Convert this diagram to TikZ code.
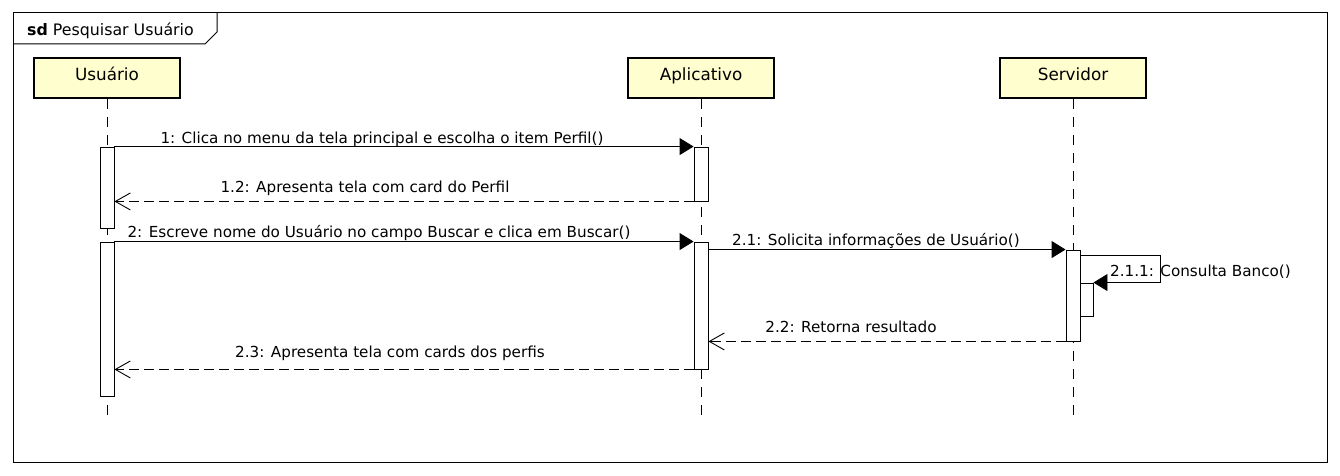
\documentclass[tikz,border=0pt]{standalone}
\usepackage{fontspec}
\setmainfont{DejaVu Sans}
\usepackage{tikz}
\usetikzlibrary{arrows.meta}
\definecolor{head_yellow}{HTML}{FEFECE}

\begin{document}
\begin{tikzpicture}[x=1pt, y=-1pt,
    font=\fontsize{15.2}{18}\selectfont,
    head/.style={draw, line width=2.5pt, fill=head_yellow, minimum width=146pt, minimum height=40pt,
      font=\fontsize{16.8}{19}\selectfont, text height=12pt, text depth=7pt},
    actbar/.style={draw, fill=white, line width=0.9pt, minimum width=14pt, inner sep=0pt},
    lifeline/.style={line width=0.9pt, dash pattern=on 10pt off 8pt},
    sync/.style={line width=0.9pt, -{Triangle[length=14pt, width=17pt]}},
    reply/.style={line width=0.9pt, dash pattern=on 10pt off 5pt, -{Straight Barb[length=15pt, width=17pt]}},
    msg/.style={anchor=base, inner sep=0pt}]
      \useasboundingbox (0,0) rectangle (1340,476);

      % frame
      \draw[line width=1pt] (13,13) rectangle (1327,462);
      \draw[line width=1pt] (13,44) -- (205,44) -- (217,32) -- (217,13);
      \node[msg, anchor=base west, font=\fontsize{15.8}{19}\selectfont] (title) at (27,35.5) {\textbf{sd} Pesquisar Usuário};

      % lifelines
      \node[head] (user) at (107,78) {Usuário};
      \node[head] (app) at (701,78) {Aplicativo};
      \node[head] (server) at (1073,78) {Servidor};
      \draw[lifeline] (user.south) -- ++(0,319);
      \draw[lifeline] (app.south) -- ++(0,319);
      \draw[lifeline] (server.south) -- ++(0,319);

      % activations
      \node[actbar, minimum height=81pt] (u1) at (107,187.5) {};
      \node[actbar, minimum height=154pt] (u2) at (107,319) {};
      \node[actbar, minimum height=54pt] (a1) at (701,174) {};
      \node[actbar, minimum height=127pt] (a2) at (701,305.5) {};
      \node[actbar, minimum height=91pt] (s1) at (1073,295.5) {};
      \node[actbar, minimum width=13pt, minimum height=33pt] (s2) at (1086.5,299.5) {};

      % messages
      \draw[sync] (u1.north east) -- (a1.north west);
      \node[msg] (m1) at (382,143.5) {1: Clica no menu da tela principal e escolha o item Perfil()};
      \draw[reply] (a1.south west) -- (u1.east |- a1.south);
      \node[msg] (m12) at (365,192) {1.2: Apresenta tela com card do Perfil};
      \draw[sync] (u2.north east) -- (a2.north west);
      \node[msg] (m2) at (379,237) {2: Escreve nome do Usuário no campo Buscar e clica em Buscar()};
      \draw[sync] (a2.east |- s1.north) -- (s1.north west);
      \node[msg] (m21) at (876,245) {2.1: Solicita informações de Usuário()};
      \coordinate (selfcorner) at (1160,255);
      \draw[sync] (s1.east |- selfcorner) -- (selfcorner) |- (s2.north east);
      \node[msg, anchor=base west] (m211) at (1110,276) {2.1.1: Consulta Banco()};
      \draw[reply] (s1.south west) -- (a2.east |- s1.south);
      \node[msg] (m22) at (851,332.5) {2.2: Retorna resultado};
      \draw[reply] (a2.south west) -- (u2.east |- a2.south);
      \node[msg] (m23) at (390,357) {2.3: Apresenta tela com cards dos perfis};
    \end{tikzpicture}
\end{document}
